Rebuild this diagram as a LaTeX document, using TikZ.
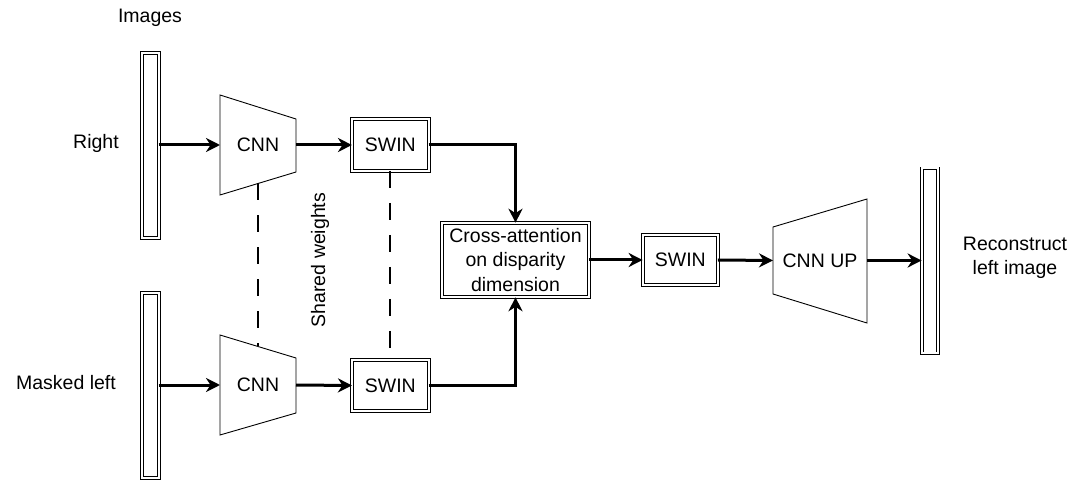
\documentclass[tikz,border=0pt]{standalone}
\usepackage{fontspec}
\setmainfont{Liberation Sans}
\usetikzlibrary{arrows.meta,calc}
\begin{document}
\begin{tikzpicture}[x=1pt,y=-1pt,
  txt/.style={font=\fontsize{19.5}{24.5}\selectfont, inner sep=0pt, align=center},
  bar/.style={draw, double, double distance=2pt, line width=0.9pt, minimum width=16.7pt, minimum height=185pt, inner sep=0pt, outer sep=0pt},
  dbox/.style={draw, double, double distance=2pt, line width=0.9pt, inner sep=0pt, outer sep=0pt, txt},
  ghost/.style={inner sep=0pt, outer sep=0pt, txt},
  conn/.style={line width=3pt, -{Stealth[length=14pt,width=14pt,inset=4.5pt]}},
  shared/.style={line width=2pt, dash pattern=on 17pt off 15pt}
]
\useasboundingbox (0,0) rectangle (1080,481);

% labels
\node[txt] (lblimg) at (150,18) {Images};
\node[txt] (lblright) at (96,143) {Right};
\node[txt] (lblmasked) at (66,383) {Masked left};
\node[txt, rotate=90] (lblshared) at (320,260) {Shared weights};
\node[txt] (lblrec) at (1015,258) {Reconstruct\\left image};

% image bars
\node[bar] (barR) at (150.3,145.5) {};
\node[bar] (barL) at (150.3,385.5) {};
\node[bar] (barO) at (930,261) {};

% CNN encoders (trapezoids)
\draw[line width=0.9pt] (220,95) -- (296,119) -- (296,172) -- (220,195) -- cycle;
\node[ghost, minimum width=76pt, minimum height=100pt] (cnnA) at (258,145) {CNN};
\draw[line width=0.9pt] (220,335) -- (296,358) -- (296,413) -- (220,435) -- cycle;
\node[ghost, minimum width=76pt, minimum height=100pt] (cnnB) at (258,385) {CNN};
\coordinate (cnnAlow) at (258,183.5);
\coordinate (cnnBup) at (258,346.5);

% CNN UP (trapezoid)
\draw[line width=0.9pt] (773,227) -- (867,199) -- (867,323) -- (773,294) -- cycle;
\node[ghost, minimum width=94pt, minimum height=67pt] (cnnup) at (820,260.5) {CNN UP};

% SWIN boxes
\node[dbox, minimum width=76.7pt, minimum height=51.7pt] (swinA) at (390.3,145) {SWIN};
\node[dbox, minimum width=76.7pt, minimum height=51.7pt] (swinB) at (390.3,385.5) {SWIN};
\node[dbox, minimum width=75.3pt, minimum height=50.6pt] (swinC) at (680.3,260) {SWIN};

% cross attention
\node[dbox, minimum width=147pt, minimum height=74.6pt] (cross) at (515.5,260) {Cross-attention\\on disparity\\dimension};

% connectors
\draw[conn] (barR.east |- cnnA.west) -- (cnnA.west);
\draw[conn] (cnnA.east) -- (swinA.west);
\draw[conn] (swinA.east) -| (cross.north);
\draw[conn] (barL.east |- cnnB.west) -- (cnnB.west);
\draw[conn] (cnnB.east) -- (swinB.west);
\draw[conn] (swinB.east) -| (cross.south);
\draw[conn] (cross.east) -- (swinC.west);
\draw[conn] (swinC.east) -- (cnnup.west);
\draw[conn] (cnnup.east) -- (barO.west |- cnnup.east);

% shared weights
\draw[shared] (cnnAlow) -- (cnnBup);
\draw[shared] (swinA.south) -- (swinB.north);
\end{tikzpicture}
\end{document}
